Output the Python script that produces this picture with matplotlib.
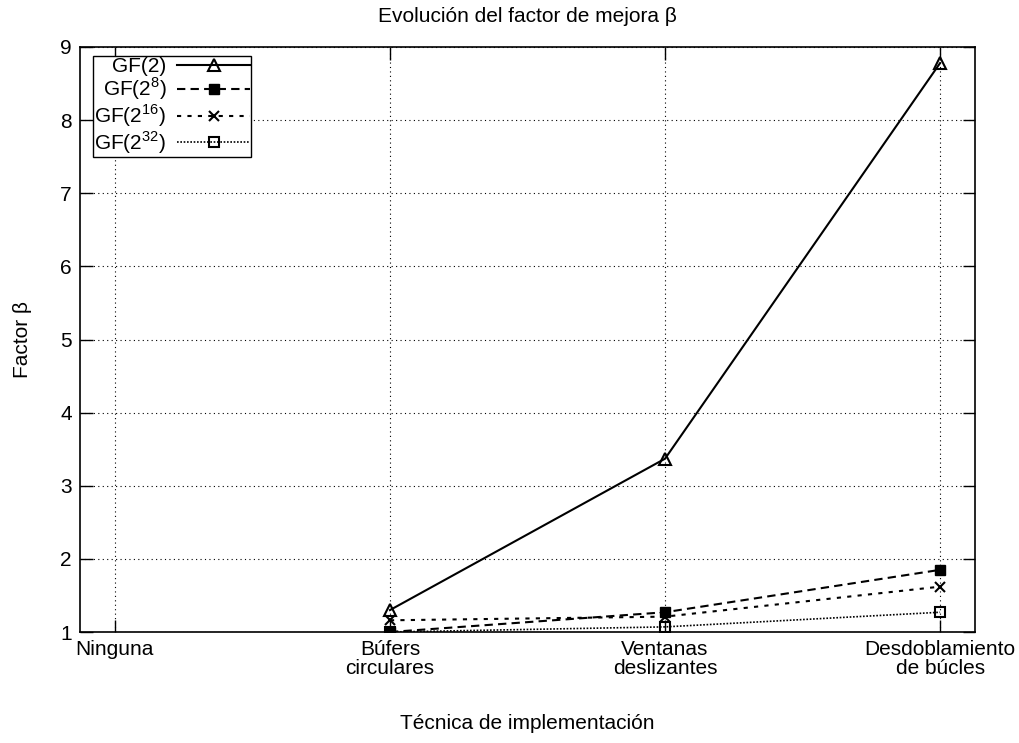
import numpy as np
import matplotlib.pyplot as plt

plt.rcParams['font.family'] = ['Liberation Sans', 'DejaVu Sans']
plt.rcParams['mathtext.fontset'] = 'custom'
plt.rcParams['mathtext.rm'] = 'Liberation Sans'

# datos
tecnicas = ['Ninguna', 'Búfers\ncirculares', 'Ventanas\ndeslizantes', 'Desdoblamiento\nde búcles']
gf2 = [np.nan, 1.30, 3.37, 8.78]
gf2_8 = [np.nan, 1.00, 1.27, 1.85]
gf2_16 = [np.nan, 1.16, 1.21, 1.62]
gf2_32 = [np.nan, 1.00, 1.07, 1.27]
etiquetas = [r'GF(2)', r'GF(2$^{8}$)', r'GF(2$^{16}$)', r'GF(2$^{32}$)']

fig = plt.figure(figsize=(10.19, 7.43), dpi=100)
ax = fig.add_axes([80 / 1019, 1 - 632 / 743, 895 / 1019, 585 / 743])

x = np.arange(len(tecnicas))
ax.plot(x, gf2, color='black', lw=1.5, ls='-', marker='^', mfc='none', mew=1.5, ms=8, label=etiquetas[0])
ax.plot(x, gf2_8, color='black', lw=1.5, ls=(0, (4, 2.5)), marker='s', ms=7, label=etiquetas[1])
ax.plot(x, gf2_16, color='black', lw=1.5, ls=(0, (2, 3)), marker='x', mew=1.5, ms=7, label=etiquetas[2])
ax.plot(x, gf2_32, color='black', lw=1.2, ls=(0, (1, 1)), marker='s', mfc='none', mew=1.5, ms=7, label=etiquetas[3])

ax.set_xlim(-0.127, 3.127)
ax.set_ylim(1, 9)
ax.set_xticks(x)
ax.set_xticklabels(tecnicas, fontsize=15, linespacing=1.0)
ax.set_yticks(range(1, 10))
ax.tick_params(axis='both', direction='in', length=9, width=1, top=True, right=True, labelsize=15, pad=6)
ax.grid(True, color='black', ls=(0, (1, 3)), lw=0.8)
for s in ax.spines.values():
    s.set_linewidth(1.2)

ax.set_title('Evolución del factor de mejora β', fontsize=15, pad=18)
ax.set_xlabel('Técnica de implementación', fontsize=15, labelpad=26)
ax.set_ylabel('Factor β', fontsize=15, labelpad=20)

leg = ax.legend(loc='upper left', bbox_to_anchor=(0.015, 0.985), fontsize=15, markerfirst=False,
                handlelength=3.5, labelspacing=0.0, borderpad=0.05, handletextpad=0.5,
                borderaxespad=0.0, fancybox=False, framealpha=1, edgecolor='black')
leg.get_frame().set_linewidth(1)
for t in leg.get_texts():
    t.set_ha('right')

fig.savefig('out.png', dpi=100)
